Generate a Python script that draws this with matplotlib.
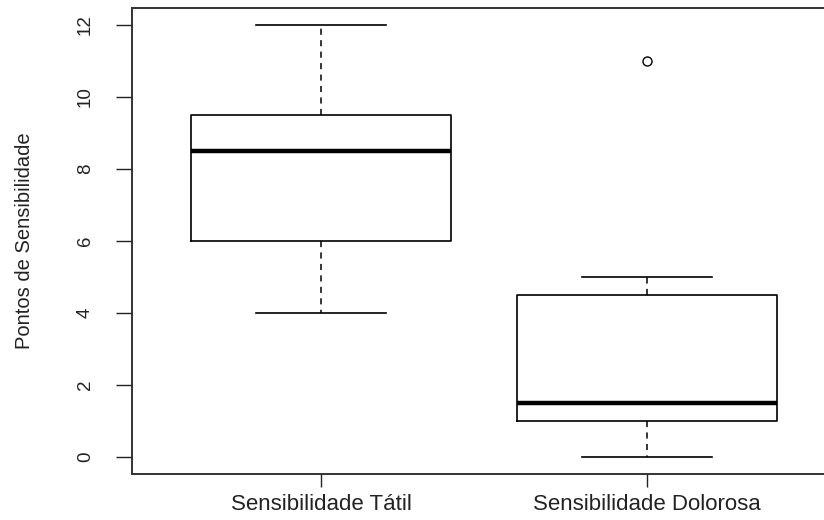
import matplotlib.pyplot as plt

plt.rcParams['font.family'] = ['Liberation Sans', 'DejaVu Sans']

# Summary statistics of each group
groups = ['Sensibilidade Tátil', 'Sensibilidade Dolorosa']
whisker_low = [4, 0]
q1 = [6, 1]
medians = [8.5, 1.5]
q3 = [9.5, 4.5]
whisker_high = [12, 5]
outliers = [[], [11]]
yticks = [0, 2, 4, 6, 8, 10, 12]

stats = []
for i in range(len(groups)):
    stats.append({'label': groups[i], 'whislo': whisker_low[i], 'q1': q1[i],
                  'med': medians[i], 'q3': q3[i], 'whishi': whisker_high[i],
                  'fliers': outliers[i]})

fig = plt.figure(figsize=(8.24, 5.2), dpi=100)
ax = fig.add_axes([132/824, 46/520, 704/824, 466.3/520])

ax.bxp(stats, positions=[1, 2], widths=0.8, capwidths=0.4,
       boxprops=dict(color='black', linewidth=1.2),
       medianprops=dict(color='black', linewidth=3.2, solid_capstyle='butt'),
       whiskerprops=dict(color='black', linewidth=1.1, linestyle=(0, (4, 3.5))),
       capprops=dict(color='black', linewidth=1.2),
       flierprops=dict(marker='o', markersize=6.5, markerfacecolor='none',
                       markeredgecolor='black', markeredgewidth=1.0))

ax.set_xlim(0.42, 2.58)
ax.set_ylim(-0.48, 12.48)
ax.set_yticks(yticks)
ax.set_yticklabels([str(v) for v in yticks], rotation=90, va='center', fontsize=13.5)
ax.set_xticks([1, 2])
ax.set_xticklabels(groups, fontsize=16)
ax.tick_params(axis='y', length=11.5, width=1.0, pad=16, colors='#222222')
ax.tick_params(axis='x', length=9.4, width=1.0, pad=5, colors='#222222')
for s in ax.spines.values():
    s.set_linewidth(1.4)
    s.set_color('#333333')

ax.set_ylabel('Pontos de Sensibilidade', fontsize=14.5, color='#222222')
ax.yaxis.set_label_coords((34 - 132) / 704, 0.5)

fig.savefig('out.png', dpi=100)
